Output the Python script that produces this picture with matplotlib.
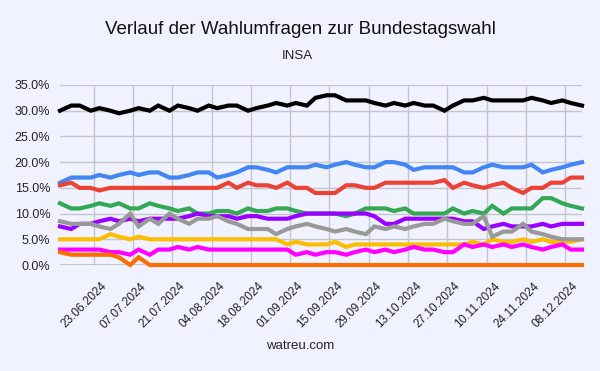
import datetime as dt

import matplotlib
matplotlib.use("Agg")
import matplotlib.dates as mdates
import matplotlib.transforms as mtrans
from matplotlib import pyplot as plt
from matplotlib.ticker import FuncFormatter

dates = ["11.06.2024", "15.06.2024", "18.06.2024", "22.06.2024", "25.06.2024", "29.06.2024",
         "02.07.2024", "06.07.2024", "09.07.2024", "13.07.2024", "16.07.2024", "20.07.2024",
         "23.07.2024", "27.07.2024", "30.07.2024", "03.08.2024", "06.08.2024", "10.08.2024",
         "13.08.2024", "17.08.2024", "20.08.2024", "24.08.2024", "27.08.2024", "31.08.2024",
         "03.09.2024", "07.09.2024", "10.09.2024", "14.09.2024", "17.09.2024", "21.09.2024",
         "24.09.2024", "28.09.2024", "01.10.2024", "05.10.2024", "08.10.2024", "12.10.2024",
         "15.10.2024", "19.10.2024", "22.10.2024", "26.10.2024", "29.10.2024", "02.11.2024",
         "05.11.2024", "09.11.2024", "12.11.2024", "16.11.2024", "19.11.2024", "23.11.2024",
         "26.11.2024", "30.11.2024", "03.12.2024", "07.12.2024", "10.12.2024", "14.12.2024"]

cdu = [30, 31, 31, 30, 30.5, 30, 29.5, 30, 30.5, 30,
       31, 30, 31, 30.5, 30, 31, 30.5, 31, 31, 30,
       30.5, 31, 31.5, 31, 31.5, 31, 32.5, 33, 33, 32,
       32, 32, 31.5, 31, 31.5, 31, 31.5, 31, 31, 30,
       31, 32, 32, 32.5, 32, 32, 32, 32, 32.5, 32,
       31.5, 32, 31.5, 31]
afd = [16, 17, 17, 17, 17.5, 17, 17.5, 18, 17.5, 18,
       18, 17, 17, 17.5, 18, 18, 17, 17.5, 18, 19,
       19, 18.5, 18, 19, 19, 19, 19.5, 19, 19.5, 20,
       19.5, 19, 19, 20, 20, 19.5, 18.5, 19, 19, 19,
       19, 18, 18, 19, 19.5, 19, 19, 19, 19.5, 18,
       18.5, 19, 19.5, 20]
spd = [15.5, 16, 15, 15, 14.5, 15, 15, 15, 15, 15,
       15, 15, 15, 15, 15, 15, 15, 16, 15, 16,
       15.5, 15.5, 15, 16, 15, 15, 14, 14, 14, 15.5,
       15.5, 15, 15, 16, 16, 16, 16, 16, 16, 16.5,
       15, 16, 15.5, 15, 15.5, 16, 15, 14, 15, 15,
       16, 16, 17, 17]
gruene = [12, 11, 11, 11.5, 12, 11.5, 12, 11, 11, 12,
          11.5, 11, 10.5, 11, 10, 10, 10.5, 10.5, 10, 11,
          10.5, 10.5, 11, 11, 10.5, 10, 10, 10, 10, 9.5,
          10, 11, 11, 11, 10.5, 11, 10, 10, 10, 10,
          11, 10, 10.5, 10, 11.5, 10, 11, 11, 11, 13,
          13, 12, 11.5, 11]
bsw = [7.5, 7, 8, 8, 8.5, 9, 8.5, 9, 8.5, 9,
       9, 9, 9, 9.5, 10, 9.5, 9.5, 9.5, 9, 9.5,
       9.5, 9, 9, 9, 9.5, 10, 10, 10, 10, 10,
       10, 10, 9.5, 8, 8, 9, 9, 9, 9, 9,
       9, 8.5, 8.5, 7, 7.5, 8, 7.5, 7.5, 7.5, 8,
       7.5, 8, 8, 8]
fdp = [5, 5, 5, 5, 5, 6, 5.5, 5, 5.5, 5,
       5, 5, 5, 5, 5, 5, 5, 5, 5, 5,
       5, 5, 5, 4, 4.5, 4, 4, 4, 4.5, 3.5,
       4, 4, 4, 4, 4, 4, 4, 4, 4, 4,
       4, 4, 4.5, 4, 5, 4.5, 4.5, 5, 4.5, 5,
       4.5, 4.5, 4.5, 5]
linke = [3, 3, 3, 3, 3, 2.5, 2.5, 2, 3, 2,
         3, 3, 3.5, 3, 3.5, 3, 3, 3, 3, 3,
         3, 3, 3, 3, 2, 2.5, 2, 2.5, 2.5, 2,
         2.5, 3, 2.5, 3, 2.5, 3, 3.5, 3, 3, 2.5,
         2.5, 4, 3.5, 4, 3.5, 4, 3.5, 4, 3.5, 3,
         3.5, 4, 3, 3]
sonstige = [8.5, 8, 8, 8, 7.5, 7, 8, 10, 7.5, 9,
            8, 10, 9, 8, 9, 9, 9.5, 8.5, 8, 7,
            7, 7, 6, 7, 7.5, 8, 7.5, 7, 6.5, 7,
            6.5, 6, 7.5, 7, 7.5, 7, 7.5, 8, 8, 9,
            8.5, 8, 8, 9.5, 5.5, 6.5, 6.5, 8, 6.5, 6,
            5.5, 5, 5, 5]
fw = [2.5, 2, 2, 2, 2, 2, 1.5, 0, 1.5, 0,
      0, 0, 0, 0, 0, 0, 0, 0, 0, 0,
      0, 0, 0, 0, 0, 0, 0, 0, 0, 0,
      0, 0, 0, 0, 0, 0, 0, 0, 0, 0,
      0, 0, 0, 0, 0, 0, 0, 0, 0, 0,
      0, 0, 0, 0]

tick_dates = ["23.06.2024", "07.07.2024", "21.07.2024", "04.08.2024", "18.08.2024",
              "01.09.2024", "15.09.2024", "29.09.2024", "13.10.2024", "27.10.2024",
              "10.11.2024", "24.11.2024", "08.12.2024"]

series = [
    (cdu, "#000000"),
    (afd, "#4285f4"),
    (spd, "#ea4335"),
    (gruene, "#34a853"),
    (bsw, "#9900ff"),
    (fdp, "#fbbc04"),
    (linke, "#ff00ff"),
    (sonstige, "#999999"),
    (fw, "#ff6d01"),
]

bg = "#f0f3ff"
plt.rcParams["font.family"] = ["Liberation Sans", "DejaVu Sans"]


def parse(d):
    return dt.datetime.strptime(d, "%d.%m.%Y")


x = [parse(d) for d in dates]

fig = plt.figure(figsize=(6.0, 3.71), dpi=100, facecolor=bg)
ax = fig.add_axes([0.1, 0.2857, 0.87, 0.4852])
ax.set_facecolor(bg)

for values, color in series:
    ax.plot(x, values, color=color, lw=3, solid_joinstyle="miter", clip_on=False, zorder=3)

ax.axhline(0, color="#333333", lw=1, zorder=2)

ax.set_ylim(0, 35)
ax.set_yticks(range(0, 36, 5))
ax.yaxis.set_major_formatter(FuncFormatter(lambda v, p: f"{v:.1f}%"))
ax.set_xlim(x[0], x[-1])
ax.set_xticks([parse(d) for d in tick_dates])
ax.xaxis.set_major_formatter(mdates.DateFormatter("%d.%m.%Y"))

ax.grid(True, color="#c4c4cc", lw=1, zorder=1)
ax.set_axisbelow(True)
for s in ax.spines.values():
    s.set_visible(False)
ax.tick_params(length=0, colors="#222222")
ax.tick_params(axis="y", labelsize=9, pad=7)
ax.tick_params(axis="x", labelsize=8.5, pad=11)

shift = mtrans.ScaledTranslation(7 / 100, 0, fig.dpi_scale_trans)
for lab in ax.get_xticklabels():
    lab.set_rotation(45)
    lab.set_ha("right")
    lab.set_va("top")
    lab.set_rotation_mode("anchor")
    lab.set_transform(lab.get_transform() + shift)

fig.text(0.5, 1 - 30 / 371, "Verlauf der Wahlumfragen zur Bundestagswahl",
         ha="center", va="center", fontsize=13.5, color="#111111")
fig.text(0.496, 1 - 56 / 371, "INSA", ha="center", va="center", fontsize=9.5, color="#222222")
fig.text(0.5, 1 - 346 / 371, "watreu.com", ha="center", va="center", fontsize=9.5, color="#222222")

fig.savefig("out.png", dpi=100, facecolor=bg)
